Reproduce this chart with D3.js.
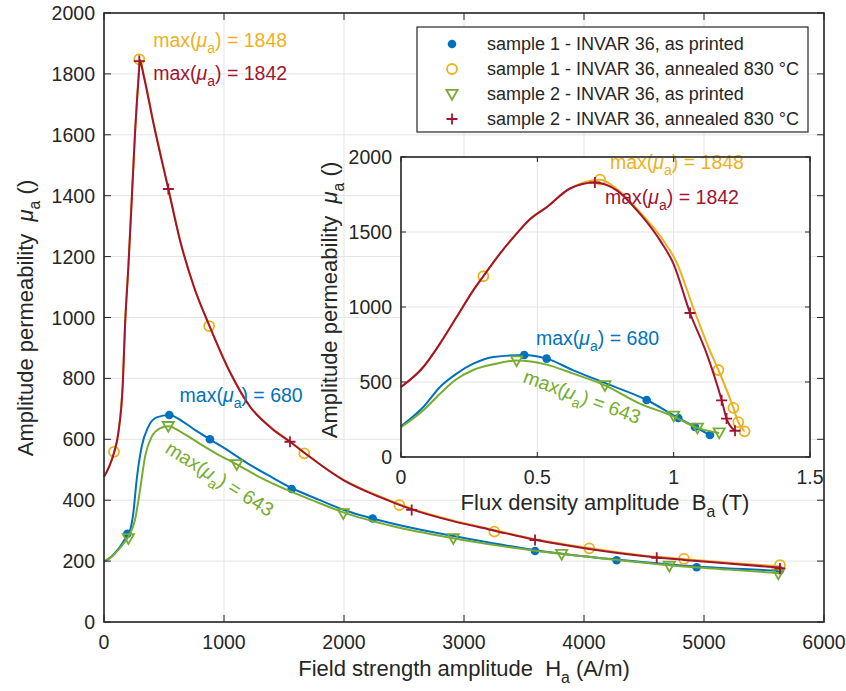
<!DOCTYPE html>
<html><head><meta charset="utf-8">
<script src="https://cdn.jsdelivr.net/npm/d3@7"></script>
<style>
body{margin:0;background:#fff}
svg{display:block}
text{font-family:"Liberation Sans",Arial,Helvetica,sans-serif;fill:#262626}
</style>
</head><body>
<svg id="c" width="846" height="691"></svg>
<script>
// ---------------- DATA ----------------
const mainXTicks = [0,1000,2000,3000,4000,5000,6000];
const mainYTicks = [0,200,400,600,800,1000,1200,1400,1600,1800,2000];
const insetXTicks = [0,0.5,1,1.5];
const insetYTicks = [0,500,1000,1500,2000];
const seriesNames = [
  "sample 1 - INVAR 36, as printed",
  "sample 1 - INVAR 36, annealed 830 °C",
  "sample 2 - INVAR 36, as printed",
  "sample 2 - INVAR 36, annealed 830 °C"
];
const maxValues = [680, 1848, 643, 1842];

// main plot: markers [H (A/m), mu_a]
const s1PrintedPts  = [[195,290],[544,680],[883,600],[1564,437],[2239,340],[3592,233],[4272,203],[4939,180],[5633,170]];
const s1AnnealedPts = [[83,559],[294,1848],[876,972],[1669,554],[2461,384],[3253,297],[4044,242],[4833,207],[5633,187]];
const s2PrintedPts  = [[203,275],[536,643],[1106,518],[1994,357],[2911,275],[3814,223],[4711,184],[5619,159]];
const s2AnnealedPts = [[294,1842],[536,1422],[1550,592],[2564,368],[3592,269],[4606,211],[5633,176]];

// main plot: fitted curves [H, mu_a]
const s1PrintedCurve = [[0,198],[60,214],[120,240],[175,272],[211,293],[244,357],[272,466],[314,576],[369,641],[439,672],[544,680],[650,660],[760,630],[883,600],[1000,572],[1200,520],[1400,475],[1564,440],[1800,400],[2000,368],[2239,340],[2600,306],[3000,276],[3592,236],[4272,205],[4939,182],[5650,168]];
const s2PrintedCurve = [[0,198],[60,213],[120,237],[175,264],[203,280],[258,335],[300,433],[342,543],[397,608],[467,636],[536,643],[650,622],[800,585],[950,550],[1106,518],[1300,475],[1500,438],[1750,398],[1994,360],[2400,315],[2911,275],[3300,250],[3814,223],[4300,203],[4711,186],[5200,172],[5650,160]];
const s2AnnealedCurve = [[0,477],[45,512],[83,555],[120,622],[157,785],[175,970],[203,1166],[231,1385],[258,1600],[285,1770],[300,1842],[330,1795],[415,1632],[536,1422],[633,1254],[750,1100],[876,975],[1050,820],[1217,707],[1400,635],[1550,592],[1669,556],[1994,466],[2300,410],[2564,370],[2900,332],[3253,300],[3592,270],[4044,240],[4606,212],[4833,204],[5200,192],[5650,178]];
const s1AnnealedCurve = [[0,477],[45,512],[83,557],[120,624],[157,790],[175,975],[203,1170],[231,1390],[258,1605],[285,1775],[300,1848],[330,1800],[415,1636],[536,1425],[633,1256],[750,1100],[876,975],[1050,822],[1217,708],[1400,636],[1550,593],[1669,556],[1994,468],[2300,412],[2564,372],[2900,334],[3253,302],[3592,272],[4044,243],[4606,214],[4833,207],[5200,195],[5650,182]];

// inset: markers [B (T), mu_a]
const inS1PrintedPts  = [[0.452,680],[0.534,656],[0.901,380],[1.017,260],[1.078,200],[1.133,147]];
const inS1AnnealedPts = [[0.302,1205],[0.730,1849],[1.164,580],[1.219,328],[1.237,232],[1.260,171]];
const inS2PrintedPts  = [[0.424,643],[0.748,478],[1.000,275],[1.087,194],[1.167,163]];
const inS2AnnealedPts = [[0.711,1830],[1.060,960],[1.176,378],[1.194,256],[1.225,175]];

// inset curves
const inS1PrintedCurve = [[0,205],[0.082,333],[0.143,467],[0.204,556],[0.265,622],[0.339,667],[0.452,680],[0.534,656],[0.632,578],[0.754,489],[0.901,380],[1.017,260],[1.078,200],[1.133,147]];
const inS2PrintedCurve = [[0,198],[0.082,311],[0.143,422],[0.204,520],[0.265,580],[0.339,618],[0.424,643],[0.534,616],[0.632,556],[0.748,478],[0.876,356],[0.999,271],[1.084,196],[1.167,160]];
const inS2AnnealedCurve = [[0,467],[0.082,600],[0.143,756],[0.204,933],[0.265,1111],[0.302,1205],[0.363,1356],[0.424,1489],[0.473,1585],[0.534,1665],[0.620,1790],[0.711,1830],[0.791,1778],[0.876,1622],[0.950,1444],[0.999,1289],[1.060,960],[1.121,689],[1.176,378],[1.194,256],[1.225,175]];
const inS1AnnealedCurve = [[0,467],[0.082,600],[0.143,756],[0.204,933],[0.265,1111],[0.302,1205],[0.363,1356],[0.424,1489],[0.473,1585],[0.534,1665],[0.620,1790],[0.730,1849],[0.800,1775],[0.880,1625],[0.960,1450],[1.010,1300],[1.075,980],[1.135,700],[1.164,580],[1.219,328],[1.237,232],[1.260,171]];

// ---------------- STYLE ----------------
const colors = ["#0072BD","#EDB120","#77AC30","#A2142F"];
const markerKinds = ["dot","circle","triangle","plus"];
const axisColor = "#262626";
const gridColor = "#e3e3e3";
const FS = 19.5, LFS = 22, LEGFS = 18;
const NB = "\u00a0";

const svg = d3.select("#c");

// ---------------- helpers ----------------
function drawMarker(g, kind, x, y, color) {
  if (kind === "dot") {
    g.append("circle").attr("cx",x).attr("cy",y).attr("r",4.3).attr("fill",color);
  } else if (kind === "circle") {
    g.append("circle").attr("cx",x).attr("cy",y).attr("r",5).attr("fill","none").attr("stroke",color).attr("stroke-width",1.8);
  } else if (kind === "triangle") {
    const s = 5.6;
    g.append("path").attr("d",`M${x-s},${y-s*0.75}L${x+s},${y-s*0.75}L${x},${y+s*1.0}Z`)
      .attr("fill","none").attr("stroke",color).attr("stroke-width",1.8).attr("stroke-linejoin","miter");
  } else {
    const s = 5.5;
    g.append("path").attr("d",`M${x-s},${y}L${x+s},${y}M${x},${y-s}L${x},${y+s}`)
      .attr("stroke",color).attr("stroke-width",1.8);
  }
}

function drawAxes(xs, ys, xt, yt, tickLen, fmtX, fmtY) {
  const [x0,x1] = xs.range(), [y0,y1] = ys.range();
  const g = svg.append("g");
  xt.forEach(t => {
    const x = xs(t);
    g.append("line").attr("x1",x).attr("x2",x).attr("y1",y0).attr("y2",y0-tickLen).attr("stroke",axisColor).attr("stroke-width",1);
    g.append("line").attr("x1",x).attr("x2",x).attr("y1",y1).attr("y2",y1+tickLen).attr("stroke",axisColor).attr("stroke-width",1);
    g.append("text").attr("x",x).attr("y",y0+27).attr("text-anchor","middle").attr("font-size",FS).text(fmtX(t));
  });
  yt.forEach(t => {
    const y = ys(t);
    g.append("line").attr("x1",x0).attr("x2",x0+tickLen).attr("y1",y).attr("y2",y).attr("stroke",axisColor).attr("stroke-width",1);
    g.append("line").attr("x1",x1).attr("x2",x1-tickLen).attr("y1",y).attr("y2",y).attr("stroke",axisColor).attr("stroke-width",1);
    g.append("text").attr("x",x0-9).attr("y",y+7).attr("text-anchor","end").attr("font-size",FS).text(fmtY(t));
  });
  g.append("rect").attr("x",x0).attr("y",y1).attr("width",x1-x0).attr("height",y0-y1)
    .attr("fill","none").attr("stroke",axisColor).attr("stroke-width",1.6);
}

function drawGrid(xs, ys, xt, yt) {
  const [x0,x1] = xs.range(), [y0,y1] = ys.range();
  const g = svg.append("g");
  xt.forEach(t => g.append("line").attr("x1",xs(t)).attr("x2",xs(t)).attr("y1",y0).attr("y2",y1).attr("stroke",gridColor).attr("stroke-width",1));
  yt.forEach(t => g.append("line").attr("x1",x0).attr("x2",x1).attr("y1",ys(t)).attr("y2",ys(t)).attr("stroke",gridColor).attr("stroke-width",1));
}

function drawSeries(xs, ys, curves, pts) {
  const line = d3.line().x(d=>xs(d[0])).y(d=>ys(d[1])).curve(d3.curveMonotoneX);
  [0,1,2,3].forEach(i => {
    const g = svg.append("g");
    g.append("path").attr("d",line(curves[i])).attr("fill","none").attr("stroke",colors[i]).attr("stroke-width",2).attr("stroke-linejoin","round");
    pts[i].forEach(p => drawMarker(g, markerKinds[i], xs(p[0]), ys(p[1]), colors[i]));
  });
}

function annot(x, y, val, color, rot) {
  const t = svg.append("text").attr("x",x).attr("y",y).attr("font-size",FS).style("fill",color);
  if (rot) t.attr("transform",`rotate(${rot},${x},${y})`);
  t.append("tspan").text("max(");
  t.append("tspan").attr("font-style","italic").text("μ");
  t.append("tspan").attr("font-size",FS*0.72).attr("dy",6).text("a");
  t.append("tspan").attr("dy",-6).text(") = " + val);
}

function label(x, y, parts, rot, size) {
  const t = svg.append("text").attr("x",x).attr("y",y).attr("font-size",size).attr("text-anchor","middle");
  if (rot) t.attr("transform",`rotate(${rot},${x},${y})`);
  parts.forEach(p => {
    const s = t.append("tspan").text(p.t);
    if (p.it) s.attr("font-style","italic");
    if (p.sub) s.attr("font-size",size*0.72).attr("dy",7);
    if (p.up) s.attr("dy",-7);
  });
}

// ---------------- MAIN ----------------
const mx = d3.scaleLinear().domain([0,6000]).range([104,824]);
const my = d3.scaleLinear().domain([0,2000]).range([622,13]);

drawGrid(mx, my, mainXTicks, mainYTicks);
drawSeries(mx, my,
  [s1PrintedCurve, s1AnnealedCurve, s2PrintedCurve, s2AnnealedCurve],
  [s1PrintedPts, s1AnnealedPts, s2PrintedPts, s2AnnealedPts]);

annot(mx(410), 47, maxValues[1], colors[1]);
annot(mx(410), 80, maxValues[3], colors[3]);
annot(mx(630), 402, maxValues[0], colors[0]);
annot(mx(500), 452, maxValues[2], colors[2], 32);

drawAxes(mx, my, mainXTicks, mainYTicks, 7, d=>d, d=>d);

label(464, 676, [{t:"Field strength amplitude"+NB+NB+"H"},{t:"a",sub:true},{t:NB+"(A/m)",up:true}], 0, LFS);
label(33, 318, [{t:"Amplitude permeability"+NB+NB},{t:"μ",it:true},{t:"a",sub:true},{t:NB+"()",up:true}], -90, LFS);

// legend
const lg = svg.append("g");
lg.append("rect").attr("x",417).attr("y",27).attr("width",391).attr("height",105)
  .attr("fill","#fff").attr("stroke",axisColor).attr("stroke-width",1.2);
seriesNames.forEach((n,i) => {
  const y = 44 + i*25;
  drawMarker(lg, markerKinds[i], 452, y, colors[i]);
  lg.append("text").attr("x",487).attr("y",y+6).attr("font-size",LEGFS).text(n);
});

// ---------------- INSET ----------------
const ix = d3.scaleLinear().domain([0,1.5]).range([401,810]);
const iy = d3.scaleLinear().domain([0,2000]).range([457,157]);
svg.append("rect").attr("x",401).attr("y",157).attr("width",409).attr("height",300).attr("fill","#fff");
drawGrid(ix, iy, insetXTicks, insetYTicks);
drawSeries(ix, iy,
  [inS1PrintedCurve, inS1AnnealedCurve, inS2PrintedCurve, inS2AnnealedCurve],
  [inS1PrintedPts, inS1AnnealedPts, inS2PrintedPts, inS2AnnealedPts]);

annot(610, 169, maxValues[1], colors[1]);
annot(605, 204, maxValues[3], colors[3]);
annot(536, 345, maxValues[0], colors[0]);
annot(522, 382, maxValues[2], colors[2], 20);

drawAxes(ix, iy, insetXTicks, insetYTicks, 5, d=>d, d=>d);
label(605, 510, [{t:"Flux density amplitude"+NB+NB+"B"},{t:"a",sub:true},{t:NB+"(T)",up:true}], 0, LFS);
label(337, 300, [{t:"Amplitude permeability"+NB+NB},{t:"μ",it:true},{t:"a",sub:true},{t:NB+"()",up:true}], -90, LFS);
</script>
</body></html>
